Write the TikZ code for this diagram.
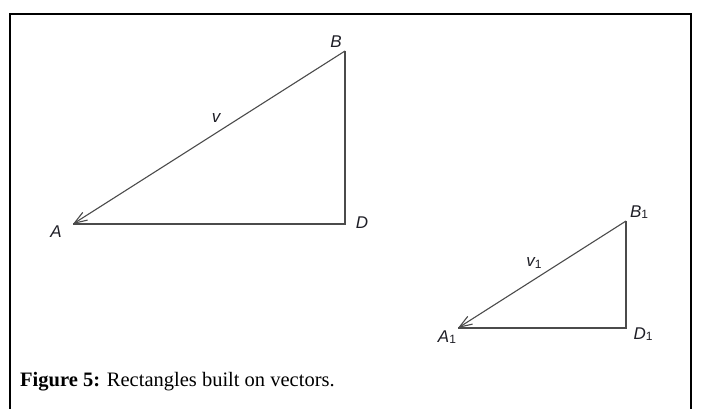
\documentclass[tikz,border=0pt]{standalone}
\usepackage{fontspec}
\setmainfont{Liberation Serif}
\newfontfamily\labelfont{Liberation Sans}
\usetikzlibrary{arrows.meta,positioning}
\definecolor{pen}{RGB}{75,75,75}
\definecolor{ink}{RGB}{30,30,38}
\tikzset{
  side/.style={draw=pen,line width=1.1pt},
  vec/.style={side,{Straight Barb[length=4.5mm,width=3.2mm]}-},
  pt/.style={font=\labelfont\itshape\fontsize{17}{17}\selectfont,text=ink,inner sep=1pt},
  frame/.style={draw=black,line width=2.6pt},
}
\newcommand{\sub}[1]{\raisebox{-1.5pt}{\fontsize{12}{12}\selectfont\upshape#1}}
\begin{document}
\begin{tikzpicture}[x=1pt,y=1pt]
  \useasboundingbox (0,0) rectangle (704,408);
  \draw[frame] (10,-10) -- (10,394) -- (691,394) -- (691,-10);
  % large triangle
  \coordinate (A) at (73,184);
  \coordinate (B) at (345,357);
  \coordinate (D) at (345,184);
  \draw[side] (B) -- (D) -- (A);
  \draw[vec] (A) -- (B);
  \node[pt] (lA) at (56,176) {A};
  \node[pt] (lB) at (336,366) {B};
  \node[pt] (lD) at (362,185) {D};
  \node[pt] (lv) at (216,290) {v};
  % small triangle
  \coordinate (A1) at (458,80);
  \coordinate (B1) at (626,187);
  \coordinate (D1) at (626,80);
  \draw[side] (B1) -- (D1) -- (A1);
  \draw[vec] (A1) -- (B1);
  \node[pt] (lA1) at (447,71) {A\sub{1}};
  \node[pt] (lB1) at (639,196) {B\sub{1}};
  \node[pt] (lD1) at (643,74) {D\sub{1}};
  \node[pt] (lv1) at (534,145) {v\sub{1}};
  % caption
  \node[anchor=base west,inner sep=0pt,font=\fontsize{20.5}{20.5}\selectfont] (cap) at (20,22)
    {\textbf{Figure 5:} Rectangles built on vectors.};
\end{tikzpicture}
\end{document}
